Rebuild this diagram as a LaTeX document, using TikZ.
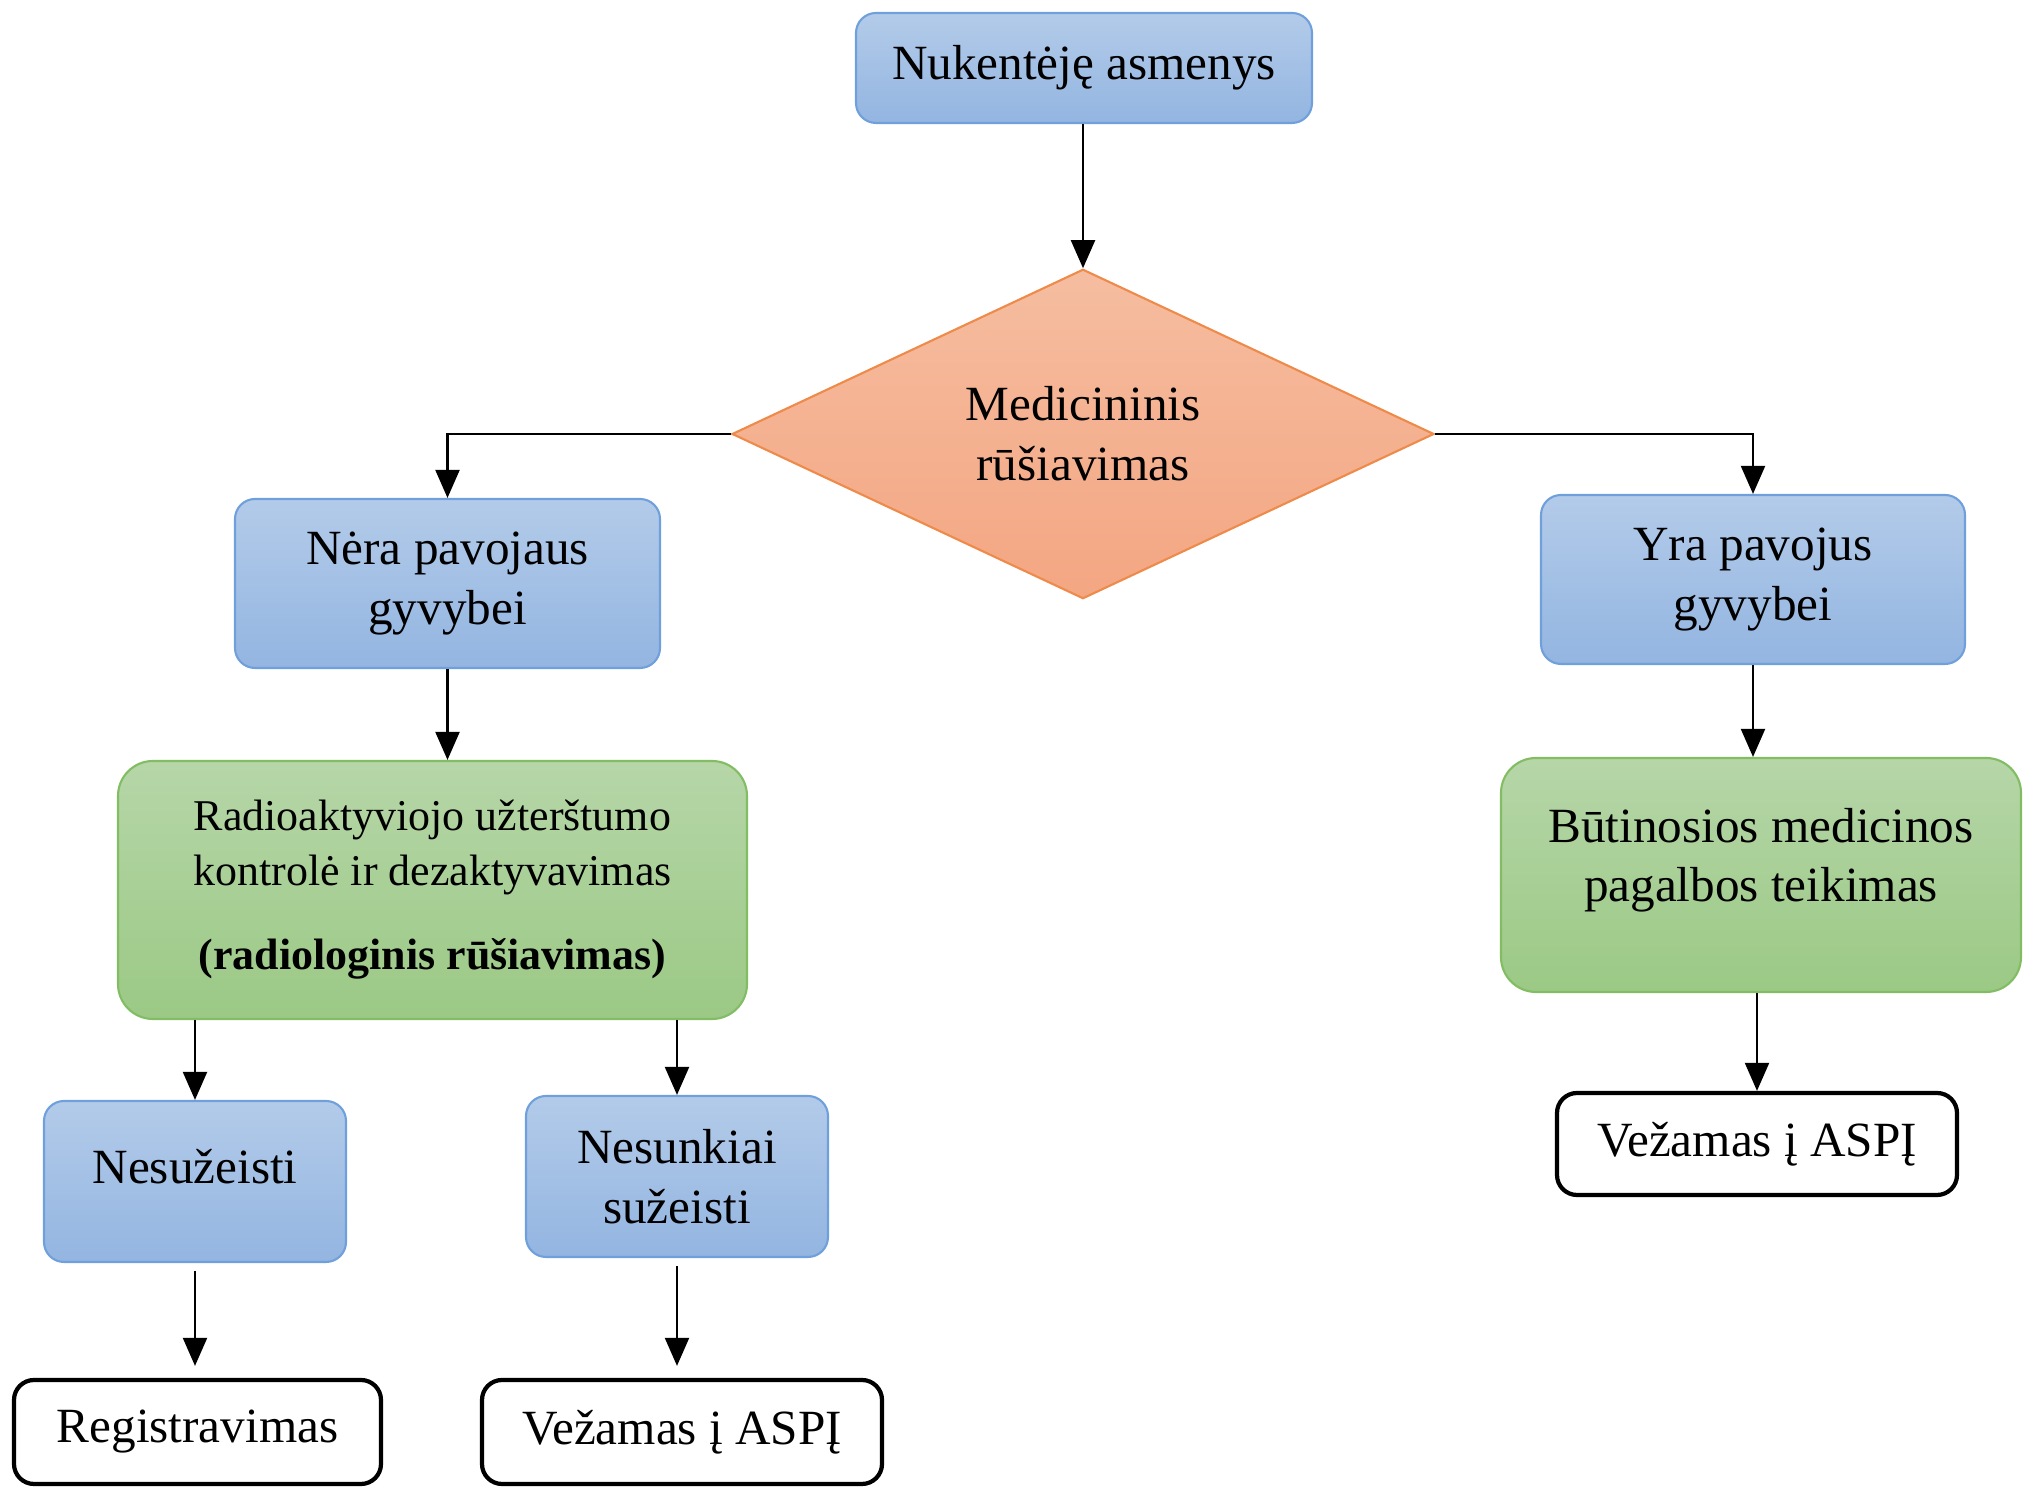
\documentclass[tikz,border=0pt]{standalone}
\usepackage{fontspec}
\setmainfont{Liberation Serif}
\usetikzlibrary{arrows.meta, positioning}
\usetikzlibrary{shapes.geometric}
\usetikzlibrary{calc}

\definecolor{blueline}{HTML}{6FA0DB}
\definecolor{bluetop}{HTML}{B3CBE9}
\definecolor{bluebot}{HTML}{93B5E1}
\definecolor{greenline}{HTML}{82BD63}
\definecolor{greentop}{HTML}{B6D6A8}
\definecolor{greenbot}{HTML}{9BC985}
\definecolor{orangeline}{HTML}{EE8A4A}
\definecolor{orangetop}{HTML}{F5BDA0}
\definecolor{orangebot}{HTML}{F4A682}

\begin{document}
\begin{tikzpicture}[
  bluebox/.style={rectangle, rounded corners=0.2cm, draw=blueline, line width=0.6pt, top color=bluetop, bottom color=bluebot, align=center, font=\fontsize{14}{17}\selectfont},
  greenbox/.style={rectangle, rounded corners=0.35cm, draw=greenline, line width=0.6pt, top color=greentop, bottom color=greenbot, align=center, font=\fontsize{14}{17}\selectfont},
  decision/.style={diamond, inner sep=0pt, draw=orangeline, line width=0.6pt, top color=orangetop, bottom color=orangebot, align=center, font=\fontsize{14}{17}\selectfont},
  endbox/.style={rectangle, rounded corners=0.2cm, draw, line width=1.2pt, fill=white, align=center, font=\fontsize{14}{17}\selectfont},
  conn/.style={draw, line width=0.6pt, -{Triangle[length=2.8mm, width=2.4mm]}}
]
\useasboundingbox (0,0) rectangle (20.26,14.87);

% Nodes
\node[bluebox, minimum width=4.56cm, minimum height=1.10cm] (V) at (10.84,14.19) {Nukentėję asmenys};
\node[decision, minimum width=7.02cm, minimum height=3.21cm] (M) at (10.83,10.53) {Medicininis\\rūšiavimas};

\node[bluebox, minimum width=4.25cm, minimum height=1.69cm] (N) at (4.475,9.035) {Nėra pavojaus\\gyvybei};
\node[bluebox, minimum width=4.24cm, minimum height=1.69cm] (Y) at (17.53,9.075) {Yra pavojus\\gyvybei};

% Radiological and medical care
\node[greenbox, minimum width=6.29cm, minimum height=2.58cm, font=\fontsize{12.5}{15.5}\selectfont] (R) at (4.325,5.97) {Radioaktyviojo užterštumo\\kontrolė ir dezaktyvavimas\\[0.3cm]\textbf{(radiologinis rūšiavimas)}};
\node[greenbox, minimum width=5.20cm, minimum height=2.34cm, text depth=0.4cm] (B) at (17.61,6.12) {Būtinosios medicinos\\pagalbos teikimas};

% Injury groups
\node[bluebox, minimum width=3.02cm, minimum height=1.61cm, text depth=0.3cm] (U) at (1.95,3.055) {Nesužeisti};
\node[bluebox, minimum width=3.02cm, minimum height=1.61cm] (S) at (6.77,3.105) {Nesunkiai\\sužeisti};

% Outcomes
\node[endbox, minimum width=3.67cm, minimum height=1.04cm] (Reg) at (1.975,0.55) {Registravimas};
\node[endbox, minimum width=4.00cm, minimum height=1.04cm] (A1) at (6.82,0.55) {Vežamas į ASPĮ};
\node[endbox, minimum width=4.00cm, minimum height=1.02cm] (A2) at (17.57,3.43) {Vežamas į ASPĮ};

% Connections
\draw[conn] (M.north |- V.south) -- (M.north);
\draw[conn] (M.west) -| (N.north);
\draw[conn] (M.east) -| (Y.north);

\draw[conn] (N.south) -- (N.south |- R.north);
\draw[conn] (Y.south) -- (Y.south |- B.north);

\draw[conn] (U.north |- R.south) -- (U.north);
\draw[conn] (S.north |- R.south) -- (S.north);

\draw[conn, shorten <=0.08cm, shorten >=0.12cm] (U.south) -- (Reg.north -| U.south);
\draw[conn, shorten <=0.08cm, shorten >=0.12cm] (S.south) -- (A1.north -| S.south);
\draw[conn] (A2.north |- B.south) -- (A2.north);

\end{tikzpicture}
\end{document}
